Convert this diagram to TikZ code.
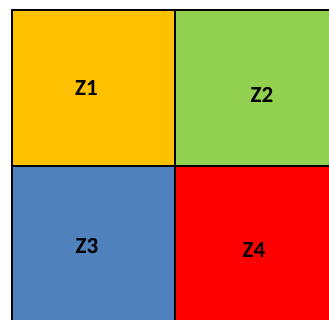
\documentclass[tikz,border=0pt]{standalone}
\usepackage{fontspec}
\newfontfamily\zonefont{Carlito}
\usetikzlibrary{positioning}

\begin{document}
\begin{tikzpicture}[
  x=1pt, y=1pt,
  node distance = 0pt,
  cell/.style  = {rectangle, draw=black, line width=1.6pt, outer sep=0pt,
                  minimum width=163pt, minimum height=156pt, inner sep=0pt},
  zlabel/.style = {font=\zonefont\bfseries\fontsize{23}{26}\selectfont, text=black}
]
\useasboundingbox (0,0) rectangle (329,-320);
\clip (0,0) rectangle (329,-320);
% Zones
\node[cell, fill={rgb,255:red,255;green,192;blue,0}, anchor=north west] (z1) at (12,-10) {};
\node[cell, fill={rgb,255:red,146;green,208;blue,80}, right=of z1] (z2) {};
\node[cell, fill={rgb,255:red,79;green,129;blue,189}, below=of z1] (z3) {};
\node[cell, fill={rgb,255:red,255;green,0;blue,0}, right=of z3] (z4) {};
% Labels
\node[zlabel] (l1) at ([xshift=-7pt]z1.center) {Z1};
\node[zlabel] (l2) at ([xshift=5.5pt, yshift=-7pt]z2.center) {Z2};
\node[zlabel] (l3) at ([xshift=-6.5pt, yshift=-2.5pt]z3.center) {Z3};
\node[zlabel] (l4) at ([xshift=-2.5pt, yshift=-6pt]z4.center) {Z4};
\end{tikzpicture}
\end{document}
